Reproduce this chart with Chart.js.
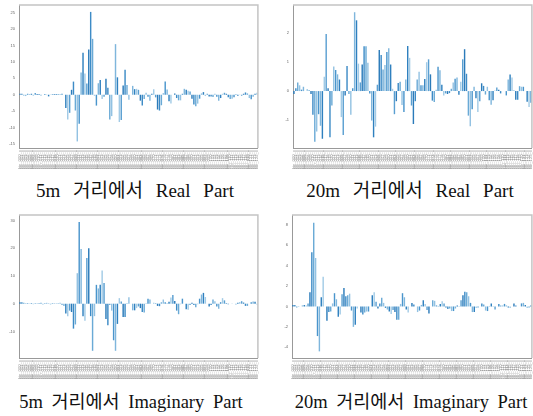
<!DOCTYPE html>
<html lang="ko">
<head>
<meta charset="UTF-8">
<title>Real / Imaginary Part</title>
<script src="https://cdn.jsdelivr.net/npm/chart.js"></script>
<style>
  html, body { margin: 0; padding: 0; background: #fff; overflow: hidden; width: 533px; height: 416px; }
  .box { position: absolute; }
  .cap { position: absolute; width: 300px; text-align: center; font-family: "Liberation Serif", "Noto Sans CJK KR", serif;
         font-size: 19px; word-spacing: 8px; color: #111; white-space: nowrap; line-height: 20px; }
  .cap.low { font-size: 18.5px; word-spacing: 4px; }
</style>
</head>
<body>
<div class="box" style="left:0;top:0;width:262px;height:170px"><canvas id="c1"></canvas></div>
<div class="box" style="left:270px;top:0;width:266px;height:170px"><canvas id="c2"></canvas></div>
<div class="box" style="left:0;top:205px;width:262px;height:175px"><canvas id="c3"></canvas></div>
<div class="box" style="left:270px;top:205px;width:266px;height:175px"><canvas id="c4"></canvas></div>

<div class="cap" style="left:-15px;top:181px">5m 거리에서 Real Part</div>
<div class="cap" style="left:260px;top:181px">20m 거리에서 Real Part</div>
<div class="cap low" style="left:-19px;top:392px">5m 거리에서 Imaginary Part</div>
<div class="cap low" style="left:261px;top:392px">20m 거리에서 Imaginary Part</div>

<script>
// values
const real5m = [0.3,0.3,-0.2,-0.4,0.3,0.2,0.3,-0.3,0.5,0.2,0.2,-0.2,0,0.2,-0.1,-0.5,0.1,0.2,0.2,0.2,0.2,0.2,0.3,0,
  -4,-7.5,-5.5,1.5,4,-4.8,-14.2,-8.8,6.8,12.8,
  6.5,3.4,13.8,25.2,17,-0.3,-3.3,3.5,4.5,-1.3,
  -0.6,4.9,2.1,-7.5,-6.5,0,15.4,5.3,-8.3,-7.7,
  2.8,7.6,3,-1.5,0,2.7,1.7,1.8,1.5,-1.8,
  -3.3,-1.3,0.6,-0.6,-1.8,0.3,1.7,-0.8,-4.5,-4.8,
  -3.2,0.5,4,1.6,-2,-2.7,0,0.4,-1,-1.7,
  -1.7,0.3,1.8,1.5,1.2,1,-1.2,-3,-3.5,-2.7,
  -1.2,0.4,0.8,-0.4,0.3,-0.5,-0.5,-0.7,0.3,-0.6,
  -1.8,-1,0.3,0.6,0.3,-0.8,-1.3,-1.2,-0.8,0.2,
  -0.3,0.1,-0.3,0.3,0.7,0.4,-1,-1.4,-0.6,0.3,0.6];

const real20m = [-0.1,0.1,0.3,0.2,0.05,0.15,0,0.07,0.03,-0.1,
  -0.82,-1.75,-1.4,-0.8,-1.2,-1.65,0.5,1.98,0.1,-1.6,
  -0.5,0.85,0.73,0.58,0.4,-0.9,-1.52,-0.15,0.87,-0.1,
  -0.82,0.1,2.73,2.45,0.95,0.3,0.92,1.55,1.55,0.98,
  -0.08,-1.02,-1.6,-1.23,0.22,1.42,1.25,0.75,0.9,1.35,
  1.48,0.92,0.08,-0.8,-0.35,0.28,0.32,-0.48,-0.72,0.4,
  1.56,1.15,-0.5,-1.14,-0.35,0.4,0.67,0.2,0.2,0.42,
  1.0,1.1,0.58,-0.33,-0.38,0.05,0.84,0.72,0.22,-0.15,
  -0.08,-0.1,-0.07,0.08,0.3,0.43,0.47,-0.13,0.32,1.1,
  1.45,0.6,-0.85,-1.22,-0.63,0.15,-0.25,-0.72,-0.35,0.27,
  0.18,-0.12,0.15,-0.32,-0.47,-0.32,0.02,0.12,0.05,-0.08,
  0,0,-0.15,0.4,0.57,0.47,0.02,-0.3,-0.3,0.17,
  0.15,0.15,0,-0.37,-0.55,-0.4];

const imag5m = [0.5,0.5,0.3,0.2,0.2,0.1,0.2,-0.2,0.2,0.1,0.2,0.3,-0.3,0.2,0.3,0.1,-0.3,0.2,0.1,0.1,0.2,0.3,-0.4,
  -0.8,-3.5,-4.5,-2.5,-3,-9,-7.5,11,29.5,19.7,
  -4.5,-6.2,16.5,20,-4.5,-17,-4.5,6.8,5.5,6.8,
  12,7.5,-5.5,-7.8,-0.5,-2.5,-13.2,-17,-7.3,2,
  0.8,-4.8,-4.8,0.2,2.3,0,-2.4,-2.4,-1.6,-1,
  -1.6,-3,-3.2,0.2,1.8,1.5,0,0.3,0.2,-0.8,
  -0.9,0.5,1.5,0.5,0.2,0.7,2.2,3.1,1,-2.5,
  -3.8,-0.2,1.8,0,-2,-2.2,-0.5,0.3,-0.5,-1.3,
  -0.2,1.8,3.3,3.9,2.4,0,-1,-0.5,1.5,0.9,
  -1,-1.8,0.5,2,1.2,0.2,-0.2,0,0.1,0,
  -0.3,0.3,0.6,0.9,0.4,-0.8,-0.8,0,0.5,0.8,
  0.7,-0.3];

const imag20m = [0.15,0.15,-0.1,-0.05,0,0.1,0.15,0.1,0.3,1.4,
  5.3,8.2,4.75,-2.9,-4.4,0.9,2.9,0,-1.4,-0.55,
  -0.5,0.3,1.3,0.7,-1,-0.8,1.2,1.8,1.0,1.1,
  1.25,-0.4,-2.0,-1.8,-0.2,0,-0.6,-0.8,-0.6,-0.5,
  -0.5,0,1.1,1.4,0.45,-0.2,0.3,0.85,0.35,-0.15,
  -0.3,-0.5,-0.75,-0.35,-0.55,-1.3,-1.3,0.25,1.3,0.9,
  -0.3,-0.6,0,0.35,0.2,0,-0.55,-0.4,0.15,0.6,
  0.25,-0.35,-0.7,0,0.6,0.55,0.1,0.05,0.25,0.5,
  0.3,-0.1,-0.25,-0.2,-0.45,-0.45,-0.2,0.1,0.05,0.6,
  1.1,1.45,1.4,1.0,0.35,-0.55,-0.55,-0.15,-0.1,0,
  0.3,0.2,-0.4,-0.45,0.05,0.3,0.05,-0.3,0,0.25,
  0.1,0.1,0.25,0.1,-0.1,-0.15,0,0.3,0.1,0,
  0,0.3,0.35,0.15,-0.15,-0.1,0.1];

// x tick labels are too small to read in the source, just placeholders
const binLabels = Array.from({length: 130}, (_, i) => 'bin_' + String(i).padStart(3, '0') + '_c');

const blues = ['#2b7bba', '#3d8bc6', '#6aaad6', '#93c2e2', '#4a95cc', '#7fb6dc', '#2f80bf', '#a2cbe6', '#5a9fd1'];

// grey top/right frame like the source
const frame = {
  id: 'frame',
  afterDraw(chart) {
    const { ctx, chartArea: a } = chart;
    ctx.save();
    ctx.strokeStyle = '#c4c4c4';
    ctx.lineWidth = 1.5;
    ctx.beginPath();
    ctx.moveTo(a.left, a.top);
    ctx.lineTo(a.right, a.top);
    ctx.lineTo(a.right, a.bottom);
    ctx.stroke();
    ctx.restore();
  }
};

function draw(id, values, yMin, yMax, step, yWidth, padTop, padRight) {
  new Chart(document.getElementById(id), {
    type: 'bar',
    data: {
      labels: binLabels.slice(0, values.length),
      datasets: [{
        data: values,
        backgroundColor: values.map((_, i) => blues[i % blues.length]),
        barPercentage: 0.75,
        categoryPercentage: 1
      }]
    },
    options: {
      responsive: true,
      maintainAspectRatio: false,
      animation: false,
      layout: { padding: { top: padTop, right: padRight, left: 0, bottom: 0 } },
      plugins: { legend: { display: false }, tooltip: { enabled: false } },
      scales: {
        x: {
          grid: { display: false, tickLength: 2 },
          border: { color: '#999', width: 1 },
          ticks: { autoSkip: false, minRotation: 90, maxRotation: 90, font: { size: 4.2 }, color: '#9a9a9a', padding: 0 },
          afterFit(s) { s.height = 22; }
        },
        y: {
          min: yMin, max: yMax,
          grid: { display: false, tickLength: 2 },
          border: { color: '#999', width: 1 },
          ticks: { stepSize: step, includeBounds: false, font: { size: 4 }, color: '#666', padding: 2 },
          afterFit(s) { s.width = yWidth; }
        }
      }
    },
    plugins: [frame]
  });
}

draw('c1', real5m, -16.2, 27.3, 5, 19, 5, 4);
draw('c2', real20m, -1.97, 2.98, 1, 23, 5, 2);
draw('c3', imag5m, -19.6, 32, 10, 19, 10, 4);
draw('c4', imag20m, -5.05, 8.96, 2, 22, 10, 2);
</script>
</body>
</html>
